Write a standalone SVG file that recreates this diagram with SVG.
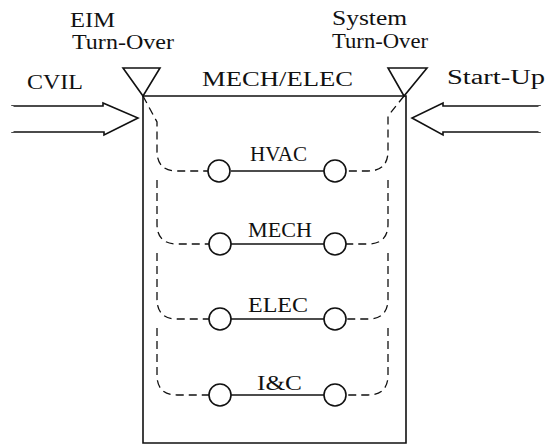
<svg xmlns="http://www.w3.org/2000/svg" width="555" height="445" viewBox="0 0 555 445">
<style>
text{font-family:"Liberation Serif","Times New Roman",serif;font-size:20px;fill:#111}
.s{fill:none;stroke:#111;stroke-width:1.6}
.d{fill:none;stroke:#111;stroke-width:1.3;stroke-dasharray:8 5}
.c{fill:#fff;stroke:#111;stroke-width:1.6}
</style>
<rect width="555" height="445" fill="#fff"/>
<g id="labels">
<text x="70" y="27" textLength="45" lengthAdjust="spacingAndGlyphs">EIM</text>
<text x="72" y="49" textLength="102" lengthAdjust="spacingAndGlyphs">Turn-Over</text>
<text x="332" y="25" textLength="75" lengthAdjust="spacingAndGlyphs">System</text>
<text x="332" y="48" textLength="96" lengthAdjust="spacingAndGlyphs">Turn-Over</text>
</g>
<g id="cvil">
<text x="27" y="89" textLength="56" lengthAdjust="spacingAndGlyphs">CVIL</text>
<polygon class="s" points="12,106 103,106 103,103 138,118 104,135 104,132 12,132" style="fill:#fff"/>
<line x1="12" y1="106" x2="12" y2="132" stroke="#fff" stroke-width="3"/>
</g>
<g id="startup">
<text x="447" y="84" textLength="98" lengthAdjust="spacingAndGlyphs">Start-Up</text>
<polygon class="s" points="540,106 443,106 443,103 412,118 443,135 443,132 540,132" style="fill:#fff"/>
<line x1="540" y1="106" x2="540" y2="132" stroke="#fff" stroke-width="3"/>
</g>
<g id="mech-elec">
<text x="202" y="86" textLength="151" lengthAdjust="spacingAndGlyphs">MECH/ELEC</text>
<polyline class="s" points="143,96 143,443 406,443 406,96 143,96"/>
</g>
<g id="eim-turnover">
<polygon class="s" points="123,68 160,68 143,96" style="fill:#fff"/>
</g>
<g id="system-turnover">
<polygon class="s" points="388,68 427,68 404,96" style="fill:#fff"/>
</g>
<g id="connectors">
<path class="d" d="M143,96 L157,122 L157,151 Q157,171 177,171 L209,171"/>
<path class="d" d="M404,96 L388,116 L388,151 Q388,171 368,171 L346,171"/>
<path class="d" d="M157,180 L157,224 Q157,244 177,244 L209,244"/>
<path class="d" d="M388,180 L388,224 Q388,244 368,244 L346,244"/>
<path class="d" d="M157,253 L157,299 Q157,319 177,319 L209,319"/>
<path class="d" d="M388,253 L388,299 Q388,319 368,319 L346,319"/>
<path class="d" d="M157,328 L157,375 Q157,395 177,395 L209,395"/>
<path class="d" d="M388,328 L388,375 Q388,395 368,395 L346,395"/>
<line class="s" x1="231" y1="171" x2="324" y2="171"/>
<line class="s" x1="231" y1="244" x2="324" y2="244"/>
<line class="s" x1="231" y1="319" x2="324" y2="319"/>
<line class="s" x1="231" y1="395" x2="324" y2="395"/>
</g>
<g id="hvac">
<circle class="c" cx="219" cy="171" r="11"/><circle class="c" cx="335" cy="171" r="11"/>
<text x="250" y="161" textLength="57" lengthAdjust="spacingAndGlyphs">HVAC</text>
</g>
<g id="mech">
<circle class="c" cx="220" cy="244" r="11"/><circle class="c" cx="335" cy="244" r="11"/>
<text x="248" y="237" textLength="64" lengthAdjust="spacingAndGlyphs">MECH</text>
</g>
<g id="elec">
<circle class="c" cx="220" cy="319" r="11"/><circle class="c" cx="335" cy="319" r="11"/>
<text x="248" y="312" textLength="60" lengthAdjust="spacingAndGlyphs">ELEC</text>
</g>
<g id="ic">
<circle class="c" cx="220" cy="395" r="11"/><circle class="c" cx="335" cy="395" r="11"/>
<text x="257" y="390" textLength="45" lengthAdjust="spacingAndGlyphs">I&amp;C</text>
</g>
</svg>
